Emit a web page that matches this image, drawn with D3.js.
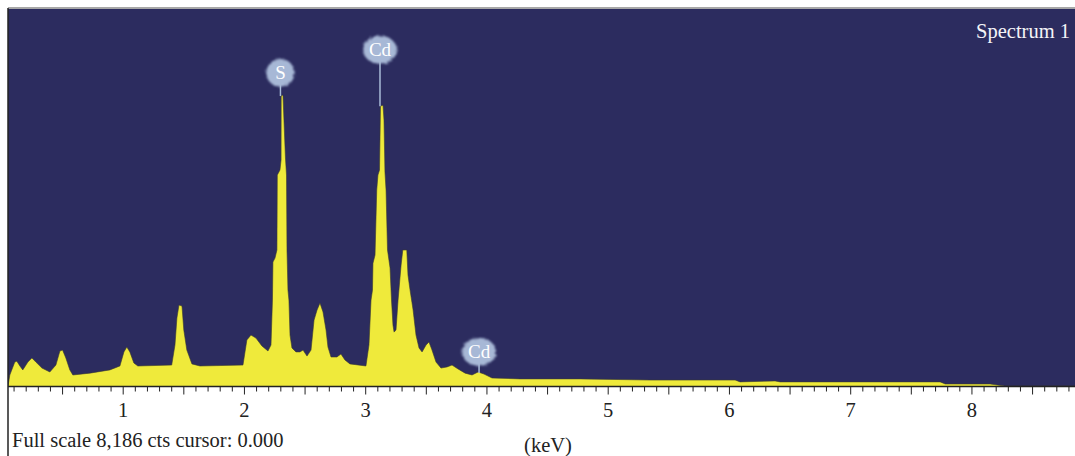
<!DOCTYPE html>
<html>
<head>
<meta charset="utf-8">
<script src="https://cdn.jsdelivr.net/npm/d3@7"></script>
<style>
  html, body { margin: 0; padding: 0; background: #fff; }
  svg { display: block; }
  text { font-family: "Liberation Serif", "DejaVu Serif", serif; }
</style>
</head>
<body>
<div id="chart"></div>
<script>
// spectrum: energy (keV) and counts
const energy = [
  0.05, 0.065, 0.106, 0.123, 0.148, 0.172, 0.214, 0.247, 0.28, 0.33, 0.395,
  0.445, 0.478, 0.50, 0.527, 0.56, 0.585, 0.725, 0.89, 0.973, 1.006, 1.03,
  1.055, 1.088, 1.121, 1.40, 1.427, 1.443, 1.46, 1.485, 1.50, 1.525, 1.567,
  1.633, 1.988, 2.02, 2.054, 2.095, 2.144, 2.194,
  2.219, 2.231, 2.235, 2.252, 2.268, 2.271, 2.293, 2.302, 2.303, 2.318,
  2.326, 2.338, 2.347, 2.351, 2.359, 2.367, 2.376, 2.392,
  2.425, 2.458, 2.483, 2.516, 2.549, 2.574, 2.599, 2.623, 2.648, 2.673,
  2.689, 2.714, 2.763, 2.796, 2.829, 2.87, 3.002,
  3.027, 3.044, 3.056, 3.06, 3.077, 3.091, 3.101, 3.114, 3.122, 3.143,
  3.151, 3.159, 3.168, 3.18, 3.192, 3.201, 3.213, 3.225, 3.234, 3.25,
  3.267, 3.292, 3.306, 3.339, 3.349,
  3.366, 3.391, 3.415, 3.44, 3.465, 3.498, 3.522, 3.547, 3.58, 3.621, 3.671,
  3.712, 3.762, 3.82, 3.877, 3.927, 3.976, 4.042, 4.273, 4.768, 5.346, 5.758,
  6.047, 6.088, 6.377, 6.418, 7.738, 7.78, 8.15, 8.27, 8.86
];
const counts = [
  10, 250, 530, 550, 445, 360, 530, 620, 530, 400, 315,
  465, 770, 790, 620, 360, 250, 290, 360, 445, 750, 855,
  750, 510, 445, 465, 900, 1485, 1765, 1745, 1225, 790, 490,
  445, 465, 1010, 1115, 1050, 880, 770,
  900, 1875, 2700, 2785, 2960, 4585, 4695, 4910, 6300, 6320,
  5780, 4975, 4585, 2960, 2090, 1875, 1115, 835,
  750, 750, 790, 660, 790, 1440, 1660, 1810, 1615, 1225,
  855, 640, 640, 705, 575, 490, 445,
  900, 1875, 2090, 2675, 2850, 4260, 4585, 4695, 6080, 6100,
  5780, 4650, 4260, 2960, 2740, 2570, 1875, 1335, 1180, 1225,
  1875, 2635, 2960, 2960, 2415,
  2090, 1660, 1115, 835, 750, 900, 965, 790, 530, 400, 425,
  465, 380, 290, 250, 315, 270, 185, 165, 165, 140, 140,
  140, 100, 120, 100, 100, 55, 55, 10, 10
];

// element markers: label, energy (keV), height of the bubble (counts)
const peakLabels = ["S", "Cd", "Cd"];
const peakEnergy = [2.297, 3.118, 3.935];
const labelCounts = [6800, 7300, 750];

const tickValues = [1, 2, 3, 4, 5, 6, 7, 8];
const fullScale = 8186;

const W = 1075, H = 456;
const plot = { left: 8, right: 1075, top: 9, bottom: 386.5 };

const svg = d3.select("#chart").append("svg")
  .attr("width", W)
  .attr("height", H);

const defs = svg.append("defs");
defs.append("clipPath").attr("id", "plot-clip")
  .append("rect")
  .attr("x", plot.left).attr("y", plot.top)
  .attr("width", plot.right - plot.left)
  .attr("height", plot.bottom - plot.top);

const fuzz = defs.append("filter").attr("id", "fuzz")
  .attr("x", "-30%").attr("y", "-30%").attr("width", "160%").attr("height", "160%");
fuzz.append("feTurbulence").attr("type", "fractalNoise")
  .attr("baseFrequency", 0.6).attr("numOctaves", 2).attr("seed", 3).attr("result", "noise");
fuzz.append("feDisplacementMap").attr("in", "SourceGraphic").attr("in2", "noise")
  .attr("scale", 4).attr("result", "disp");
fuzz.append("feGaussianBlur").attr("in", "disp").attr("stdDeviation", 0.9);

const x = d3.scaleLinear().domain([0.05, 8.85]).range([plot.left, plot.right]);
const y = d3.scaleLinear().domain([0, fullScale]).range([plot.bottom, plot.top]);

// background
svg.append("rect")
  .attr("x", plot.left).attr("y", plot.top)
  .attr("width", plot.right - plot.left)
  .attr("height", plot.bottom - plot.top)
  .attr("fill", "#2c2c5f");

const data = energy.map((e, i) => ({ e, c: counts[i] }));

const area = d3.area()
  .x(d => x(d.e))
  .y0(y(0))
  .y1(d => y(d.c));

const g = svg.append("g").attr("clip-path", "url(#plot-clip)");
g.append("path")
  .datum(data)
  .attr("d", area)
  .attr("fill", "#efea3b")
  .attr("stroke", "#3a3a30")
  .attr("stroke-width", 0.6);

// frame lines
svg.append("line")
  .attr("x1", plot.left).attr("x2", plot.right)
  .attr("y1", plot.top - 1).attr("y2", plot.top - 1)
  .attr("stroke", "#8a8a8a").attr("stroke-width", 1.5);
svg.append("line")
  .attr("x1", plot.left).attr("x2", plot.left)
  .attr("y1", plot.top - 1).attr("y2", H)
  .attr("stroke", "#222").attr("stroke-width", 1.5);

// x axis: minor ticks every 0.1 keV, longer at 0.5
const axis = svg.append("g").attr("transform", `translate(0,${plot.bottom})`);
axis.append("line")
  .attr("x1", plot.left).attr("x2", plot.right)
  .attr("stroke", "#222").attr("stroke-width", 1.5);

const minor = d3.range(1, 89).map(i => i / 10);
axis.selectAll(".tick")
  .data(minor)
  .enter().append("line")
  .attr("x1", d => x(d)).attr("x2", d => x(d))
  .attr("y1", 0)
  .attr("y2", (d, i) => ((i + 1) % 5 === 0 ? 8 : 5))
  .attr("stroke", "#222").attr("stroke-width", 1);

axis.selectAll(".tick-label")
  .data(tickValues)
  .enter().append("text")
  .attr("x", d => x(d))
  .attr("y", 30.5)
  .attr("text-anchor", "middle")
  .attr("font-size", 20.5)
  .attr("fill", "#222")
  .text(d => d);

svg.append("text")
  .attr("x", 12).attr("y", 447)
  .attr("font-size", 20.5).attr("fill", "#222")
  .text(`Full scale ${d3.format(",")(fullScale)} cts cursor: 0.000`);

svg.append("text")
  .attr("x", 548).attr("y", 452)
  .attr("text-anchor", "middle")
  .attr("font-size", 20.5).attr("fill", "#222")
  .text("(keV)");

svg.append("text")
  .attr("x", 1070).attr("y", 38)
  .attr("text-anchor", "end")
  .attr("font-size", 20.5).attr("fill", "#f4f4f8")
  .text("Spectrum 1");

// element labels with connector lines down to the local peak top
const peakTop = e => d3.max(data.filter(d => Math.abs(d.e - e) < 0.03), d => d.c) ?? 0;

const labels = svg.append("g");
peakLabels.forEach((name, i) => {
  const cx = x(peakEnergy[i]);
  const cy = y(labelCounts[i]);
  labels.append("line")
    .attr("x1", cx).attr("x2", cx)
    .attr("y1", cy + 10)
    .attr("y2", Math.min(y(peakTop(peakEnergy[i])) + 1, plot.bottom))
    .attr("stroke", "#a9bcd8").attr("stroke-width", 1.5);
  labels.append("ellipse")
    .attr("cx", cx).attr("cy", cy)
    .attr("rx", name.length > 1 ? 17 : 14).attr("ry", 14)
    .attr("fill", "#a7b8d6")
    .attr("filter", "url(#fuzz)");
  labels.append("text")
    .attr("x", cx).attr("y", cy + 6.5)
    .attr("text-anchor", "middle")
    .attr("font-size", 19).attr("fill", "#fff")
    .text(name);
});
</script>
</body>
</html>
